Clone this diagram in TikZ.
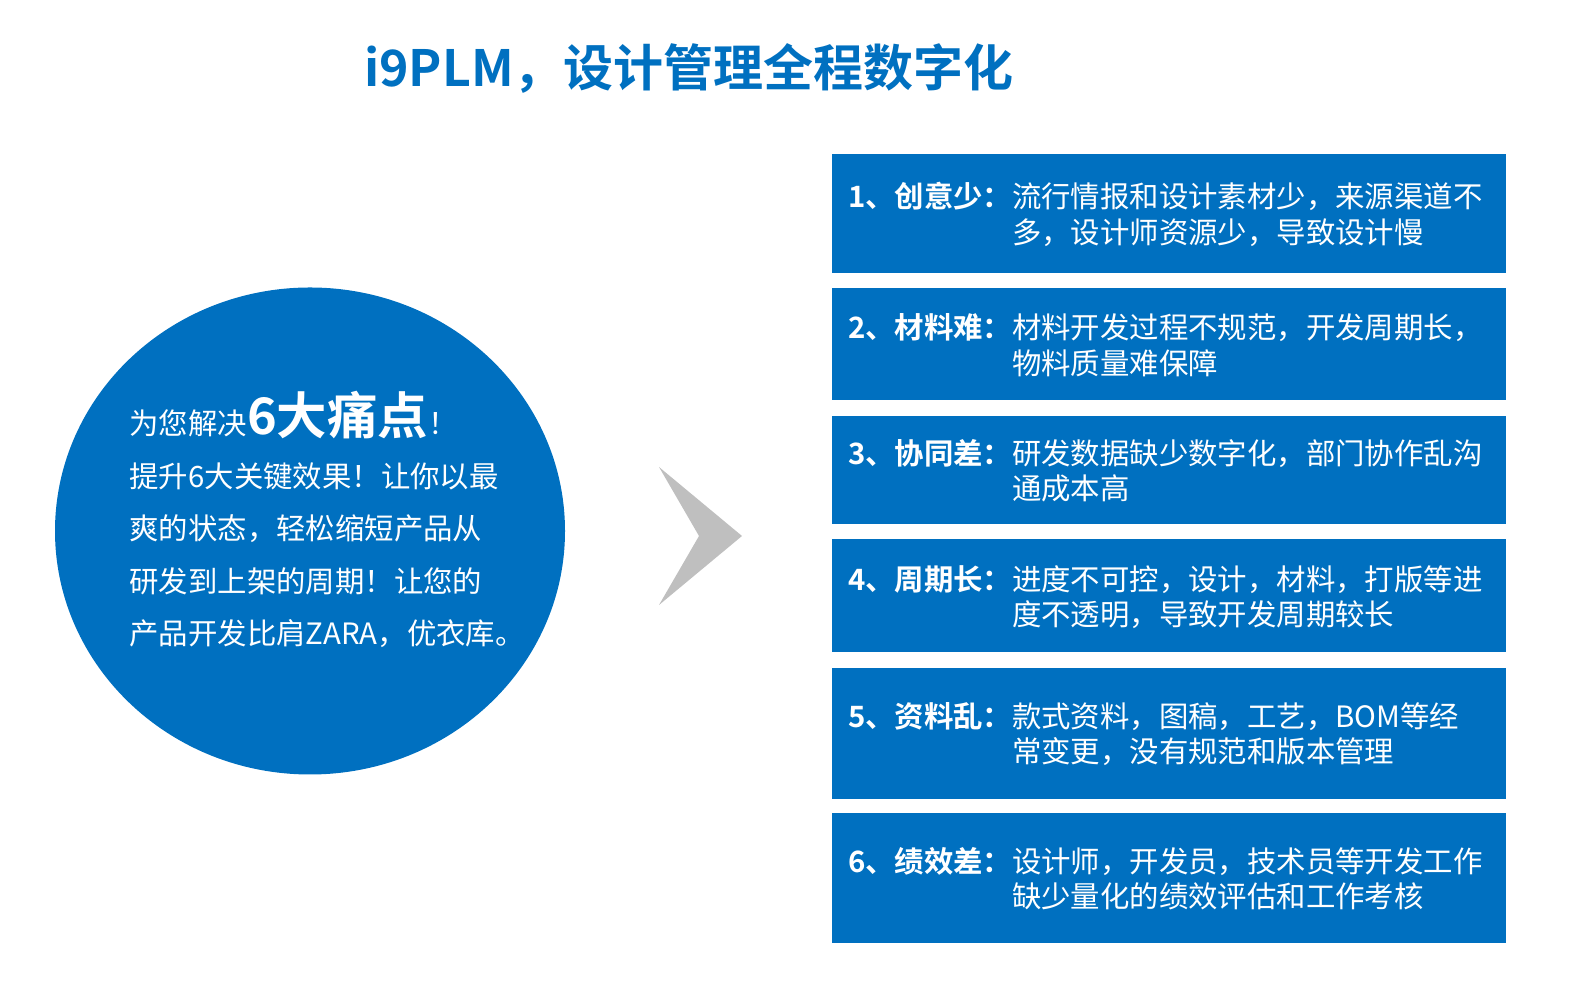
\documentclass[tikz,border=0pt]{standalone}
\usepackage{fontspec}
\setmainfont{Noto Sans CJK SC}[BoldFont={Noto Sans CJK SC Bold}]
\usepackage{tikz}
\usetikzlibrary{positioning,shapes.geometric}
\definecolor{plmblue}{HTML}{0070C0}
\definecolor{arrowgray}{HTML}{BFBFBF}
\newcommand{\painlines}[3]{\begin{tabular}{@{}l@{}l@{}}\rule{0pt}{34.5pt}\makebox[164pt][l]{\bfseries #1} & #2\\ & #3\end{tabular}}

\begin{document}
\begin{tikzpicture}[x=1pt, y=1pt, node distance=15pt,
    painbox/.style={rectangle, fill=plmblue, text=white, text width=642pt, inner xsep=16pt, inner ysep=0pt, align=left, font=\fontsize{29.4pt}{35pt}\selectfont}]
        \useasboundingbox (0,0) rectangle (1569,995);
        \node (title) [font=\fontsize{50pt}{60pt}\selectfont\bfseries, text=plmblue] at (689,927) {i9PLM，设计管理全程数字化};

        \node (pain) [ellipse, fill=plmblue, minimum width=510pt, minimum height=487pt] at (310,464) {};
        \node (painText) [anchor=base west, align=left, text=white, font=\fontsize{29.4pt}{52.5pt}\selectfont] at (126,350) {为您解决{\fontsize{50.4pt}{52.5pt}\selectfont\bfseries 6大痛点}！\\提升6大关键效果！让你以最\\爽的状态，轻松缩短产品从\\研发到上架的周期！让您的\\产品开发比肩ZARA，优衣库。};

        \fill[arrowgray] (659,528) -- (742,459) -- (659,390) -- (699,459) -- cycle;

        \node (p1) [painbox, minimum height=119pt] at (1169,781.5) {\painlines{1、创意少：}{流行情报和设计素材少，来源渠道不}{多，设计师资源少，导致设计慢}};
        \node (p2) [painbox, minimum height=112pt, below=of p1] {\painlines{2、材料难：}{材料开发过程不规范，开发周期长，}{物料质量难保障}};
        \node (p3) [painbox, minimum height=108pt, below=of p2] {\painlines{3、协同差：}{研发数据缺少数字化，部门协作乱沟}{通成本高}};
        \node (p4) [painbox, minimum height=113pt, below=of p3] {\painlines{4、周期长：}{进度不可控，设计，材料，打版等进}{度不透明，导致开发周期较长}};
        \node (p5) [painbox, minimum height=131pt, below=of p4] {\painlines{5、资料乱：}{款式资料，图稿，工艺，BOM等经}{常变更，没有规范和版本管理}};
        \node (p6) [painbox, minimum height=130pt, below=14pt of p5] {\painlines{6、绩效差：}{设计师，开发员，技术员等开发工作}{缺少量化的绩效评估和工作考核}};
    \end{tikzpicture}
\end{document}
